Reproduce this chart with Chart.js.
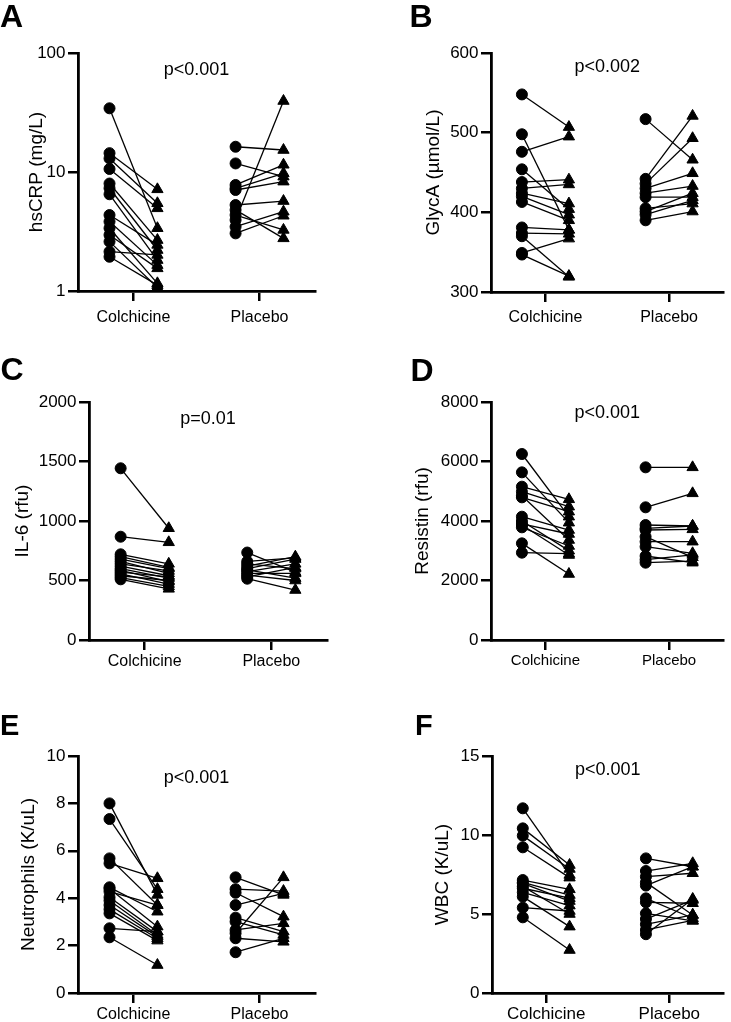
<!DOCTYPE html>
<html>
<head>
<meta charset="utf-8">
<script src="https://cdn.jsdelivr.net/npm/chart.js@4.4.1/dist/chart.umd.min.js"></script>
<style>
  body { margin: 0; background: #fff; }
  #wrap { position: relative; width: 731px; height: 1022px; overflow: hidden; }
  canvas { position: absolute; }
</style>
</head>
<body>
<div id="wrap">
  <canvas id="chartA" width="365" height="330" style="left:0;top:0"></canvas>
  <canvas id="chartB" width="366" height="330" style="left:365px;top:0"></canvas>
  <canvas id="chartC" width="365" height="350" style="left:0;top:330px"></canvas>
  <canvas id="chartD" width="366" height="350" style="left:365px;top:330px"></canvas>
  <canvas id="chartE" width="365" height="342" style="left:0;top:680px"></canvas>
  <canvas id="chartF" width="366" height="342" style="left:365px;top:680px"></canvas>
</div>
<script>
const groups = ['Colchicine', 'Placebo'];

// A - hsCRP (mg/L)
const crpColBefore = [34.3, 14.4, 13.0, 10.6, 8.0, 7.3, 6.5, 4.35, 3.83, 3.37, 2.96, 2.6, 2.14, 1.94];
const crpColAfter  = [3.37, 7.15, 5.46, 4.95, 2.68, 2.21, 1.82, 2.44, 1.65, 1.16, 1.55, 1.07, 2.01, 1.12];
const crpPlaBefore = [16.3, 11.8, 7.78, 7.3, 7.06, 5.28, 4.8, 4.35, 3.95, 3.47, 3.05];
const crpPlaAfter  = [15.3, 9.14, 11.5, 9.75, 8.3, 5.7, 2.77, 3.26, 39.5, 4.64, 4.29];
const crpTicks = [1, 10, 100];

// B - GlycA (umol/L)
const glycaColBefore = [548, 498, 476, 454, 438, 430, 424, 420, 413, 381, 374, 370, 349, 347];
const glycaColAfter  = [507, 378, 495, 404, 441, 435, 411, 397, 390, 378, 373, 319, 367, 320];
const glycaPlaBefore = [517, 442, 436, 430, 424, 419, 405, 401, 397, 390];
const glycaPlaAfter  = [466, 521, 493, 449, 433, 419, 411, 424, 415, 401];
const glycaTicks = [300, 400, 500, 600];

// C - IL-6 (rfu)
const il6ColBefore = [1443, 868, 720, 700, 680, 660, 640, 620, 600, 585, 570, 555, 540, 525, 510];
const il6ColAfter  = [939, 821, 640, 610, 600, 560, 580, 540, 520, 490, 530, 470, 500, 450, 430];
const il6PlaBefore = [735, 660, 640, 620, 600, 590, 575, 560, 545, 530, 515];
const il6PlaAfter  = [570, 690, 600, 700, 680, 520, 640, 560, 500, 610, 420];
const il6Ticks = [0, 500, 1000, 1500, 2000];

// D - Resistin (rfu)
const resColBefore = [6252, 5636, 5154, 4986, 4850, 4795, 4145, 4000, 3900, 3866, 3787, 3249, 2935];
const resColAfter  = [4145, 3944, 4729, 4482, 3361, 4314, 3697, 3003, 3563, 2857, 3160, 2218, 2900];
const resPlaBefore = [5804, 4460, 3866, 3750, 3697, 3473, 3305, 3137, 2824, 2700, 2599];
const resPlaAfter  = [5804, 4930, 3832, 3832, 3720, 2779, 3305, 2914, 2599, 2860, 2650];
const resTicks = [0, 2000, 4000, 6000, 8000];

// E - Neutrophils (K/uL)
const neuColBefore = [8.0, 7.34, 5.68, 5.47, 4.46, 4.4, 4.28, 4.04, 3.9, 3.71, 3.53, 3.36, 2.73, 2.35];
const neuColAfter  = [4.14, 4.38, 3.71, 4.84, 3.43, 2.8, 3.71, 2.59, 2.45, 2.38, 2.3, 2.21, 2.59, 1.18];
const neuPlaBefore = [4.88, 4.38, 4.23, 3.71, 3.18, 3.01, 2.66, 2.52, 2.31, 1.72];
const neuPlaAfter  = [4.14, 4.3, 3.22, 4.2, 2.59, 2.45, 2.94, 4.88, 2.16, 2.31];
const neuTicks = [0, 2, 4, 6, 8, 10];

// F - WBC (K/uL)
const wbcColBefore = [11.69, 10.42, 9.96, 9.22, 7.15, 7.0, 6.94, 6.75, 6.63, 6.37, 6.1, 5.4, 4.79];
const wbcColAfter  = [7.47, 8.1, 7.85, 7.3, 6.56, 6.2, 5.82, 5.0, 6.0, 5.53, 4.2, 5.19, 2.72];
const wbcPlaBefore = [8.52, 7.72, 7.36, 7.0, 6.8, 5.99, 5.74, 5.04, 4.68, 4.35, 3.99, 3.72];
const wbcPlaAfter  = [7.99, 8.21, 7.58, 4.94, 8.0, 4.73, 5.68, 4.56, 5.89, 4.94, 4.6, 5.95];
const wbcTicks = [0, 5, 10, 15];

const FONT = '"Liberation Sans", Arial, Helvetica, sans-serif';

// canvas box and plot area are in page pixels
const panels = [
  { id: 'chartA', letter: 'A', letterX: 0, letterY: 27, letterSize: 32, title: 'hsCRP (mg/L)', p: 'p<0.001', pOff: 22,
    log: true, ticks: crpTicks, col: [crpColBefore, crpColAfter], pla: [crpPlaBefore, crpPlaAfter],
    box: [0, 0, 365, 330], area: [78, 53, 315, 291], titlePad: 25, xPad: 6.5, xFont: 16 },
  { id: 'chartB', letter: 'B', letterX: 44.5, letterY: 27, letterSize: 32, title: 'GlycA (µmol/L)', p: 'p<0.002', pOff: 19,
    ticks: glycaTicks, col: [glycaColBefore, glycaColAfter], pla: [glycaPlaBefore, glycaPlaAfter],
    box: [365, 0, 366, 330], area: [491, 53, 728, 292], titlePad: 57.5, xPad: 6, xFont: 16 },
  { id: 'chartC', letter: 'C', letterX: 0.5, letterY: 50, letterSize: 32, title: 'IL-6 (rfu)', p: 'p=0.01', pOff: 22,
    ticks: il6Ticks, col: [il6ColBefore, il6ColAfter], pla: [il6PlaBefore, il6PlaAfter],
    box: [0, 330, 365, 350], area: [89, 402, 327, 640], titlePad: 11, xPad: 1.5, xFont: 16 },
  { id: 'chartD', letter: 'D', letterX: 45.5, letterY: 51, letterSize: 32, title: 'Resistin (rfu)', p: 'p<0.001', pOff: 16,
    ticks: resTicks, col: [resColBefore, resColAfter], pla: [resPlaBefore, resPlaAfter],
    box: [365, 330, 366, 350], area: [491, 402, 728, 640], titlePad: 46, xPad: 1.5, xFont: 15 },
  { id: 'chartE', letter: 'E', letterX: 0, letterY: 55, letterSize: 29, title: 'Neutrophils (K/uL)', p: 'p<0.001', pOff: 27,
    ticks: neuTicks, col: [neuColBefore, neuColAfter], pla: [neuPlaBefore, neuPlaAfter],
    box: [0, 680, 365, 342], area: [78, 756, 315, 993], titlePad: 17.5, xPad: 1.5, xFont: 16 },
  { id: 'chartF', letter: 'F', letterX: 50, letterY: 55, letterSize: 29, title: 'WBC (K/uL)', p: 'p<0.001', pOff: 19,
    ticks: wbcTicks, col: [wbcColBefore, wbcColAfter], pla: [wbcPlaBefore, wbcPlaAfter],
    box: [365, 680, 366, 342], area: [492, 756, 729, 993], titlePad: 66, xPad: 1.5, xFont: 17 }
];

const annotate = {
  id: 'annotate',
  afterDraw(chart, args, opts) {
    const ctx = chart.ctx;
    const area = chart.chartArea;
    ctx.save();
    ctx.fillStyle = '#000';
    ctx.textBaseline = 'alphabetic';
    ctx.textAlign = 'left';
    ctx.font = 'bold ' + opts.letterSize + 'px ' + FONT;
    ctx.fillText(opts.letter, opts.letterX, opts.letterY);
    ctx.textAlign = 'center';
    ctx.font = '18px ' + FONT;
    ctx.fillText(opts.p, (area.left + area.right) / 2, area.top + opts.pOff);
    ctx.restore();
  }
};

function pairDatasets(before, after, center) {
  return before.map((b, i) => ({
    data: [{ x: center - 0.19, y: b }, { x: center + 0.19, y: after[i] }],
    borderColor: '#000',
    borderWidth: 1.3,
    backgroundColor: '#000',
    pointBackgroundColor: '#000',
    pointBorderColor: '#000',
    pointBorderWidth: 1,
    pointStyle: ['circle', 'triangle'],
    pointRadius: [5.5, 6.5],
    clip: false
  }));
}

panels.forEach(p => {
  const [bx, by, bw, bh] = p.box;
  const [al, at, ar, ab] = p.area;
  const datasets = pairDatasets(p.col[0], p.col[1], 1).concat(pairDatasets(p.pla[0], p.pla[1], 2));

  new Chart(document.getElementById(p.id).getContext('2d'), {
    type: 'line',
    data: { datasets: datasets },
    plugins: [annotate],
    options: {
      responsive: false,
      animation: false,
      layout: { padding: { left: 0, top: at - by, right: bx + bw - ar, bottom: 0 } },
      plugins: {
        legend: { display: false },
        tooltip: { enabled: false },
        annotate: { letter: p.letter, letterX: p.letterX, letterY: p.letterY, letterSize: p.letterSize, p: p.p, pOff: p.pOff }
      },
      scales: {
        x: {
          type: 'linear',
          min: 0.56,
          max: 2.44,
          afterBuildTicks: s => { s.ticks = groups.map((g, i) => ({ value: i + 1 })); },
          afterFit: s => { s.height = by + bh - ab; },
          ticks: {
            color: '#000',
            padding: p.xPad,
            maxRotation: 0,
            autoSkip: false,
            font: { family: FONT, size: p.xFont },
            callback: v => groups[v - 1]
          },
          grid: { drawOnChartArea: false, color: '#000', lineWidth: 2.5, tickLength: 10 },
          border: { color: '#000', width: 2.8 }
        },
        y: {
          type: p.log ? 'logarithmic' : 'linear',
          min: p.ticks[0],
          max: p.ticks[p.ticks.length - 1],
          afterBuildTicks: s => { s.ticks = p.ticks.map(v => ({ value: v })); },
          afterFit: s => { s.width = al - bx; },
          ticks: {
            color: '#000',
            padding: 2.5,
            font: { family: FONT, size: 17 },
            callback: v => String(v)
          },
          grid: { drawOnChartArea: false, color: '#000', lineWidth: 2.5, tickLength: 10 },
          border: { color: '#000', width: 2.8 },
          title: {
            display: true,
            text: p.title,
            color: '#000',
            font: { family: FONT, size: 19 },
            padding: { top: p.titlePad, bottom: 4 }
          }
        }
      }
    }
  });
});
</script>
</body>
</html>
